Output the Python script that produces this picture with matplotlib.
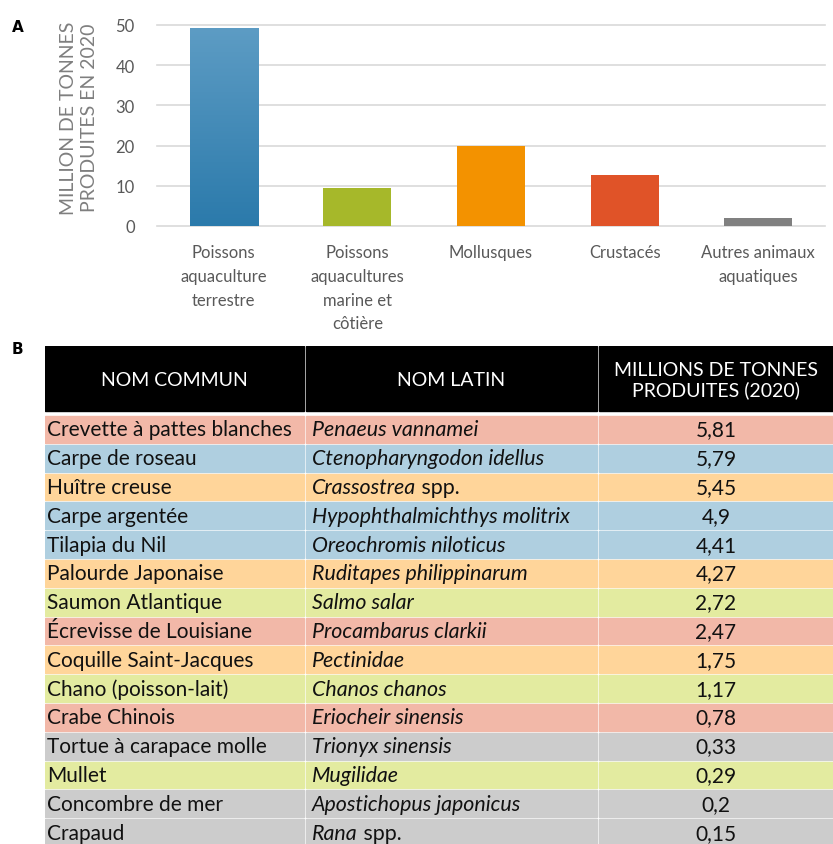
import numpy as np
import matplotlib
matplotlib.use("Agg")
from matplotlib import pyplot as plt
from matplotlib.patches import Rectangle
from matplotlib.colors import LinearSegmentedColormap

plt.rcParams['font.family'] = ['Lato', 'DejaVu Sans']

# --- panel A data
categories = ["Poissons\naquaculture\nterrestre",
              "Poissons\naquacultures\nmarine et\ncôtière",
              "Mollusques", "Crustacés", "Autres animaux\naquatiques"]
production = [49.2, 9.4, 19.9, 12.7, 2.0]
bar_colors = ["#3a87b8", "#a6b82a", "#f39200", "#e05328", "#808080"]

# --- panel B data
common_names = ["Crevette à pattes blanches", "Carpe de roseau", "Huître creuse",
                "Carpe argentée", "Tilapia du Nil", "Palourde Japonaise",
                "Saumon Atlantique", "Écrevisse de Louisiane", "Coquille Saint-Jacques",
                "Chano (poisson-lait)", "Crabe Chinois", "Tortue à carapace molle",
                "Mullet", "Concombre de mer", "Crapaud"]
latin_names = ["Penaeus vannamei", "Ctenopharyngodon idellus", "Crassostrea",
               "Hypophthalmichthys molitrix", "Oreochromis niloticus",
               "Ruditapes philippinarum", "Salmo salar", "Procambarus clarkii",
               "Pectinidae", "Chanos chanos", "Eriocheir sinensis", "Trionyx sinensis",
               "Mugilidae", "Apostichopus japonicus", "Rana"]
latin_suffix = ["", "", " spp.", "", "", "", "", "", "", "", "", "", "", "", " spp."]
tonnes = ["5,81", "5,79", "5,45", "4,9", "4,41", "4,27", "2,72", "2,47",
          "1,75", "1,17", "0,78", "0,33", "0,29", "0,2", "0,15"]
groups = ["crust", "inland", "moll", "inland", "inland", "moll", "marine", "crust",
          "moll", "marine", "crust", "other", "marine", "other", "other"]
headers = ["NOM COMMUN", "NOM LATIN", "MILLIONS DE TONNES\nPRODUITES (2020)"]

row_colors = {"crust": "#f2b8a8", "inland": "#afcfe0", "moll": "#ffd59a",
              "marine": "#e3eba0", "other": "#cccccc"}

W, H = 833, 845
fig = plt.figure(figsize=(W / 100, H / 100), dpi=100)

# ---------------- panel A
ax = fig.add_axes([157 / W, 1 - 227 / H, 668 / W, 201 / H])
x = np.arange(len(categories))
bars = ax.bar(x, production, width=0.51, color=bar_colors, zorder=3)

# vertical gradient on first bar
cmap = LinearSegmentedColormap.from_list("bl", ["#2b7aab", "#5d9cc4"])
b0 = bars[0]
grad = np.linspace(0, 1, 256).reshape(-1, 1)
im = ax.imshow(grad, cmap=cmap, origin="lower", aspect="auto", zorder=4,
               extent=[b0.get_x(), b0.get_x() + b0.get_width(), 0, b0.get_height()])
im.set_clip_path(b0)

ax.set_xlim(-0.5, len(categories) - 0.5)
ax.set_ylim(0, 50)
ax.set_yticks([0, 10, 20, 30, 40, 50])
ax.grid(axis="y", color="#d9d9d9", linewidth=1.2, zorder=0)
for l in ax.get_ygridlines():
    l.set_clip_on(False)
for s in ax.spines.values():
    s.set_visible(False)
ax.tick_params(axis="both", length=0, colors="#595959", labelsize=12)
ax.tick_params(axis="y", pad=16)
ax.tick_params(axis="x", pad=13)
ax.set_xticks(x)
ax.set_xticklabels(categories, linespacing=1.6, va="top")

fig.text(79 / W, 1 - 118 / H, "MILLION DE TONNES\nPRODUITES EN 2020", rotation=90,
         ha="center", va="center", multialignment="center", fontsize=14,
         color="#7f7f7f", linespacing=1.3)
fig.text(12 / W, 1 - 32 / H, "A", fontsize=11, fontweight="bold", family="DejaVu Sans")
fig.text(12 / W, 1 - 354 / H, "B", fontsize=11, fontweight="bold", family="DejaVu Sans")

# ---------------- panel B (pixel coordinates inside the axes)
tx0, ty0 = 45, 347
tab = fig.add_axes([tx0 / W, 0, (W - tx0) / W, (H - ty0) / H])
tab.set_xlim(0, W - tx0)
tab.set_ylim(H - ty0, 0)
tab.axis("off")

col_edges = [(0, 259), (261, 552), (554, W - tx0)]
header_h = 65
row_top = 70
row_pitch = 28.8
gap = 2

for (c0, c1), h in zip(col_edges, headers):
    tab.add_patch(Rectangle((c0, 0), c1 - c0, header_h, color="black"))
    tab.text((c0 + c1) / 2, header_h / 2 + 1, h, color="white", ha="center",
             va="center", fontsize=14, linespacing=1.2)

for i in range(len(common_names)):
    y = row_top + i * row_pitch
    fc = row_colors[groups[i]]
    for c0, c1 in col_edges:
        tab.add_patch(Rectangle((c0, y), c1 - c0, row_pitch - gap, color=fc))
    yc = y + (row_pitch - gap) / 2
    tab.text(col_edges[0][0] + 2, yc, common_names[i], ha="left", va="center",
             fontsize=15, color="#111111")
    t1 = tab.text(col_edges[1][0] + 6, yc, latin_names[i], ha="left", va="center",
                  fontsize=15.4, style="italic", color="#111111")
    if latin_suffix[i]:
        tab.annotate(latin_suffix[i], xy=(1, 0), xycoords=t1, ha="left", va="bottom",
                     fontsize=15.4, color="#111111")
    tab.text(sum(col_edges[2]) / 2, yc, tonnes[i], ha="center", va="center",
             fontsize=15, color="#111111")

fig.savefig("out.png", dpi=100)
